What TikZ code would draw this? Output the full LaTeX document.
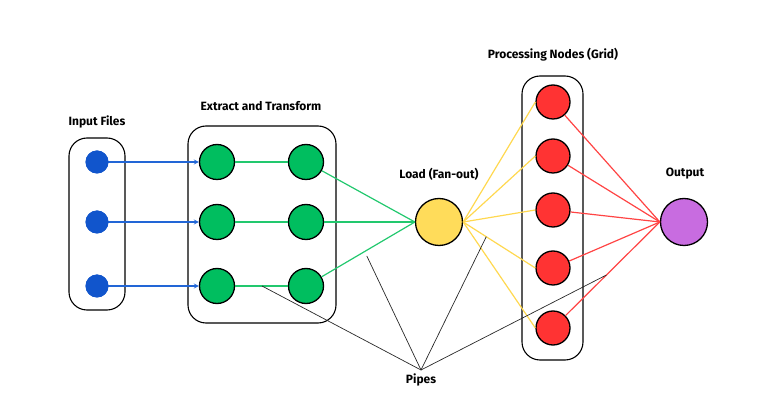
\documentclass[tikz,border=0pt]{standalone}
\usepackage{fontspec}
\setmainfont{Fira Sans}
\usetikzlibrary{calc}
\begin{document}
\begin{tikzpicture}[x=1pt,y=-1pt,
  lbl/.style={font=\bfseries\fontsize{12}{14}\selectfont, inner sep=0pt},
  grp/.style={draw=black, line width=1.1pt, rounded corners=18pt},
  bluedot/.style={circle, fill={rgb,255:red,17;green,85;blue,204}, minimum size=23pt, inner sep=0pt},
  gnode/.style={circle, draw=black, line width=1.3pt, fill={rgb,255:red,0;green,190;blue,95}, minimum size=35pt, inner sep=0pt},
  ynode/.style={circle, draw=black, line width=1.3pt, fill={rgb,255:red,255;green,220;blue,90}, minimum size=47pt, inner sep=0pt},
  rnode/.style={circle, draw=black, line width=1.3pt, fill={rgb,255:red,255;green,51;blue,51}, minimum size=34pt, inner sep=0pt},
  pnode/.style={circle, draw=black, line width=1.3pt, fill={rgb,255:red,200;green,108;blue,224}, minimum size=47pt, inner sep=0pt},
  bluearr/.style={draw={rgb,255:red,34;green,102;blue,214}, line width=1.2pt, -stealth},
  gline/.style={draw={rgb,255:red,34;green,200;blue,110}, line width=1.2pt},
  yline/.style={draw={rgb,255:red,255;green,216;blue,80}, line width=1.2pt},
  rline/.style={draw={rgb,255:red,255;green,68;blue,68}, line width=1.2pt},
  pipe/.style={draw={rgb,255:red,40;green,40;blue,40}, line width=0.7pt}
]
\useasboundingbox (0,0) rectangle (772,403);
% group boxes
\draw[grp] (69,138) rectangle (125,310);
\draw[grp] (188,126) rectangle (336,323);
\draw[grp] (522,76) rectangle (583,360);
% labels
\node[lbl] (lin) at (97,122) {Input Files};
\node[lbl] (lext) at (261,106) {Extract and Transform};
\node[lbl] (lload) at (439,174) {Load (Fan-out)};
\node[lbl] (lproc) at (553,55) {Processing Nodes (Grid)};
\node[lbl] (lout) at (685,174) {Output};
\node[lbl] (pipes) at (421,380) {Pipes};
% nodes
\node[bluedot] (i1) at (97,162) {};
\node[bluedot] (i2) at (97,222) {};
\node[bluedot] (i3) at (97,286) {};
\node[gnode] (a1) at (217,162) {};
\node[gnode] (a2) at (217,222) {};
\node[gnode] (a3) at (217,286) {};
\node[gnode] (b1) at (306,162) {};
\node[gnode] (b2) at (306,222) {};
\node[gnode] (b3) at (306,286) {};
\node[ynode] (ld) at (439,222) {};
\node[rnode] (r1) at (553,102) {};
\node[rnode] (r2) at (553,156) {};
\node[rnode] (r3) at (553,210) {};
\node[rnode] (r4) at (553,268) {};
\node[rnode] (r5) at (553,328) {};
\node[pnode] (out) at (684,222) {};
% connectors
\foreach \k in {1,2,3} {
  \draw[bluearr] (i\k.center) -- (a\k.west);
  \draw[gline] (a\k) -- (b\k);
  \draw[gline] (b\k) -- (ld.west);
}
\foreach \k in {1,...,5} {
  \draw[yline] (ld.east) -- (r\k.west);
  \draw[rline] (r\k) -- (out.west);
}
% redraw dots above arrow starts
\foreach \k in {1,2,3} { \node[bluedot] at (i\k) {}; }
% pipe pointers
\coordinate (apex) at (421,370);
\coordinate (p1) at ($(a3.east)!0.51!(b3.west)$);
\coordinate (p2) at ($(b3.east)!0.47!(ld.west)$);
\coordinate (p3) at ($(ld.east)!0.32!(r4.west)$);
\coordinate (p4) at ($(r5.center)!0.5!(out.west)$);
\foreach \p in {p1,p2,p3,p4} { \draw[pipe] (apex) -- (\p); }
\end{tikzpicture}
\end{document}
